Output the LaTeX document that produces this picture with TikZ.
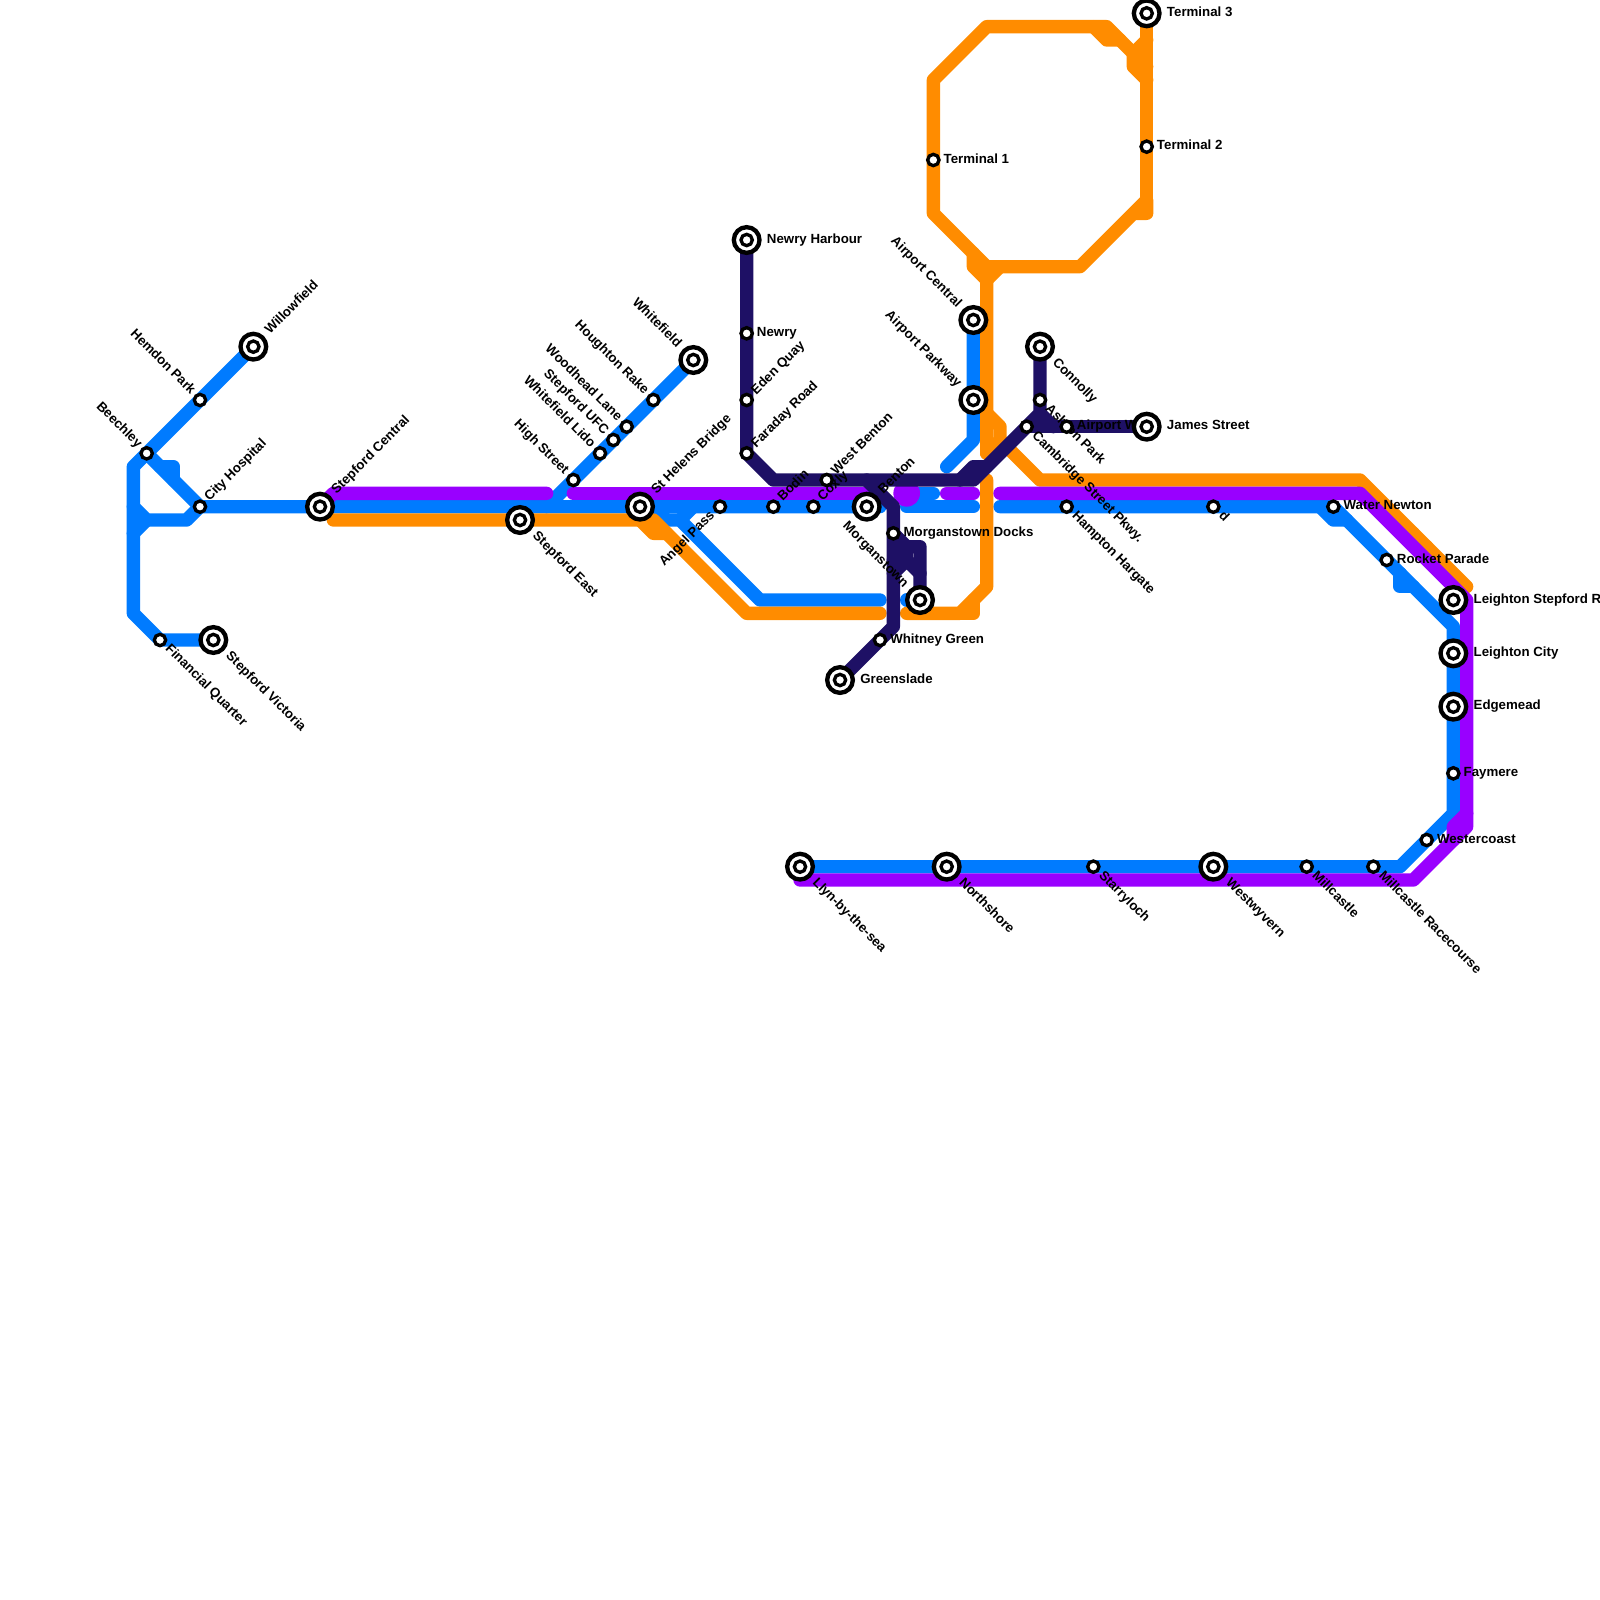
\documentclass[tikz,border=0pt]{standalone}
\usepackage{fontspec}
\setmainfont{Liberation Sans}
\usepackage{xcolor}
\definecolor{lineblue}{HTML}{007BFF}
\definecolor{linepurple}{HTML}{9900FF}
\definecolor{lineorange}{HTML}{FF8C00}
\definecolor{linenavy}{HTML}{1E1065}
\tikzset{
  route/.style={line width=0.3cm, line cap=round, line join=round},
  blueroute/.style={route, lineblue},
  purpleroute/.style={route, linepurple},
  orangeroute/.style={route, lineorange},
  navyroute/.style={route, linenavy},
  lbl/.style={font=\bfseries\fontsize{8.5}{10}\selectfont, inner xsep=0.225cm, inner ysep=0pt, text height=0.72em, text depth=0.3em},
  far/.style={inner xsep=0.45cm},
  lble/.style={lbl, anchor=west},
  lblne/.style={lbl, anchor=west, rotate=45},
  lblse/.style={lbl, anchor=west, rotate=-45},
  lblnw/.style={lbl, anchor=east, rotate=-45},
  lblsw/.style={lbl, anchor=east, rotate=45},
  halt/.style={circle, draw=black, fill=white, line width=0.075cm, minimum size=0.255cm, inner sep=0pt, outer sep=0pt},
  hub/.style={circle, draw=black, fill=white, line width=0.0975cm, minimum size=0.578cm, inner sep=0pt, outer sep=0pt,
    path picture={\draw[line width=0.075cm] (path picture bounding box.center) circle (0.1275cm);}},
}

\begin{document}
\begin{tikzpicture}[x=0.3cm, y=-0.3cm]
  \useasboundingbox (0,0) rectangle (120,120);
  % stations on the grid
  \coordinate (willowfield) at (19,26);
  \coordinate (hemdon) at (15,30);
  \coordinate (beechley) at (11,34);
  \coordinate (cityhospital) at (15,38);
  \coordinate (stepfordcentral) at (24,38);
  \coordinate (stepfordeast) at (39,39);
  \coordinate (financial) at (12,48);
  \coordinate (stepfordvictoria) at (16,48);
  \coordinate (highstreet) at (43,36);
  \coordinate (whitefieldlido) at (45,34);
  \coordinate (stepfordufc) at (46,33);
  \coordinate (woodhead) at (47,32);
  \coordinate (houghton) at (49,30);
  \coordinate (whitefield) at (52,27);
  \coordinate (sthelens) at (48,38);
  \coordinate (angelpass) at (54,38);
  \coordinate (bodin) at (58,38);
  \coordinate (coxly) at (61,38);
  \coordinate (westbenton) at (62,36);
  \coordinate (benton) at (65,38);
  \coordinate (newryharbour) at (56,18);
  \coordinate (newry) at (56,25);
  \coordinate (edenquay) at (56,30);
  \coordinate (faraday) at (56,34);
  \coordinate (docks) at (67,40);
  \coordinate (morganstown) at (69,45);
  \coordinate (whitney) at (66,48);
  \coordinate (greenslade) at (63,51);
  \coordinate (airportcentral) at (73,24);
  \coordinate (airportparkway) at (73,30);
  \coordinate (terminalone) at (70,12);
  \coordinate (terminaltwo) at (86,11);
  \coordinate (terminalthree) at (86,1);
  \coordinate (connolly) at (78,26);
  \coordinate (ashton) at (78,30);
  \coordinate (cambridge) at (77,32);
  \coordinate (airportwest) at (80,32);
  \coordinate (james) at (86,32);
  \coordinate (hampton) at (80,38);
  \coordinate (dee) at (91,38);
  \coordinate (waternewton) at (100,38);
  \coordinate (rocket) at (104,42);
  \coordinate (leightonstepford) at (109,45);
  \coordinate (leightoncity) at (109,49);
  \coordinate (edgemead) at (109,53);
  \coordinate (faymere) at (109,58);
  \coordinate (westercoast) at (107,63);
  \coordinate (llyn) at (60,65);
  \coordinate (northshore) at (71,65);
  \coordinate (starryloch) at (82,65);
  \coordinate (westwyvern) at (91,65);
  \coordinate (millcastle) at (98,65);
  \coordinate (racecourse) at (103,65);

  % blue
  \draw[blueroute] (willowfield) -- (hemdon) -- (beechley) -- (10,35) -- (10,46) -- (financial) -- (stepfordvictoria);
  \draw[blueroute] (beechley) -- (cityhospital) -- (stepfordcentral) -- (66,38);
  \draw[blueroute] (12,35) -- (13,35) -- (13,36);
  \draw[blueroute] (10,38) -- (11,39) -- (14,39) -- (cityhospital);
  \draw[blueroute] (10,40) -- (11,39);
  \draw[blueroute] (whitefield) -- (houghton) -- (woodhead) -- (stepfordufc) -- (whitefieldlido) -- (highstreet) -- (41,38);
  \draw[blueroute] (49,38) -- (50,39) -- (51,39) -- (57,45) -- (66,45);
  \draw[blueroute] (52,38) -- (51,39);
  \draw[blueroute] (68,45) -- (morganstown);
  \draw[blueroute] (68,38) -- (73,38);
  \draw[blueroute] (68,37) -- (70,37);
  \draw[blueroute] (airportcentral) -- (airportparkway) -- (73,33) -- (71,35);
  \draw[blueroute] (75,38) -- (hampton) -- (dee) -- (waternewton) -- (101,39) -- (rocket) -- (109,47) -- (leightoncity) -- (edgemead) -- (faymere) -- (109,61) -- (westercoast) -- (105,65) -- (racecourse) -- (millcastle) -- (westwyvern) -- (starryloch) -- (northshore) -- (llyn);
  \draw[blueroute] (99,38) -- (100,39) -- (101,39);
  \draw[blueroute] (105,43) -- (105,44) -- (106,44);

  % orange
  \draw[orangeroute] (25,39) -- (stepfordeast) -- (48,39) -- (49,39) -- (56,46) -- (66,46);
  \draw[orangeroute] (48,39) -- (49,40) -- (50,40);
  \draw[orangeroute] (74,21) -- (73,20) -- (73,19);
  \draw[orangeroute] (74,21) -- (75,20);
  \draw[orangeroute] (74,34) -- (74,21) -- (74,20) -- (70,16) -- (terminalone) -- (70,6) -- (74,2) -- (83,2) -- (86,5);
  \draw[orangeroute] (74,20) -- (81,20) -- (86,15) -- (86,16) -- (85,16);
  \draw[orangeroute] (86,15) -- (terminaltwo) -- (terminalthree);
  \draw[orangeroute] (82,2) -- (83,3) -- (84,3);
  \draw[orangeroute] (86,3) -- (85,4) -- (85,5) -- (86,6);
  \draw[orangeroute] (74,31) -- (75,32) -- (75,33) -- (74,34);
  \draw[orangeroute] (75,33) -- (78,36) -- (102,36) -- (110,44);
  \draw[orangeroute] (106,40) -- (106,41) -- (107,41);
  \draw[orangeroute] (74,36) -- (74,44) -- (72,46) -- (68,46);
  \draw[orangeroute] (73,45) -- (73,46) -- (72,46);

  % purple
  \draw[purpleroute] (stepfordcentral) -- (25,37) -- (41,37);
  \draw[purpleroute] (43,37) -- (65,37);
  \fill[linepurple] (68,37) circle (1);
  \draw[purpleroute] (71,37) -- (73,37);
  \draw[purpleroute] (75,37) -- (102,37) -- (110,45) -- (110,62) -- (106,66) -- (60,66);
  \draw[purpleroute] (110,61) -- (109,62) -- (109,63);

  % navy
  \draw[navyroute] (newryharbour) -- (newry) -- (edenquay) -- (faraday) -- (58,36) -- (westbenton) -- (73,36) -- (cambridge) -- (78,31) -- (ashton) -- (connolly);
  \draw[navyroute] (72,36) -- (73,35) -- (74,35);
  \draw[navyroute] (cambridge) -- (airportwest) -- (james);
  \draw[navyroute] (78,31) -- (79,32);
  \draw[navyroute] (65,36) -- (67,38) -- (docks) -- (67,47) -- (whitney) -- (greenslade);
  \draw[navyroute] (docks) -- (68,41) -- (69,41) -- (morganstown);
  \draw[navyroute] (67,43) -- (68,42) -- (69,43);
  \draw[navyroute] (68,41) -- (68,42);
  \draw[navyroute] (67,42) -- (68,41);

  % names
  \node[lblne, far] (l-willowfield) at (willowfield) {Willowfield};
  \node[lblnw] (l-hemdon) at (hemdon) {Hemdon Park};
  \node[lblnw] (l-beechley) at (beechley) {Beechley};
  \node[lblne] (l-cityhospital) at (cityhospital) {City Hospital};
  \node[lblne, far] (l-stepfordcentral) at (stepfordcentral) {Stepford Central};
  \node[lblse, far] (l-stepfordeast) at (stepfordeast) {Stepford East};
  \node[lblse] (l-financial) at (financial) {Financial Quarter};
  \node[lblse, far] (l-stepfordvictoria) at (stepfordvictoria) {Stepford Victoria};
  \node[lblnw] (l-highstreet) at (highstreet) {High Street};
  \node[lblnw] (l-whitefieldlido) at (whitefieldlido) {Whitefield Lido};
  \node[lblnw] (l-stepfordufc) at (stepfordufc) {Stepford UFC};
  \node[lblnw] (l-woodhead) at (woodhead) {Woodhead Lane};
  \node[lblnw] (l-houghton) at (houghton) {Houghton Rake};
  \node[lblnw, far] (l-whitefield) at (whitefield) {Whitefield};
  \node[lblne, far] (l-sthelens) at (sthelens) {St Helens Bridge};
  \node[lblsw] (l-angelpass) at (angelpass) {Angel Pass};
  \node[lblne] (l-bodin) at (bodin) {Bodin};
  \node[lblne] (l-coxly) at (coxly) {Coxly};
  \node[lblne] (l-westbenton) at (westbenton) {West Benton};
  \node[lblne, far] (l-benton) at (benton) {Benton};
  \node[lble, far] (l-newryharbour) at (newryharbour) {Newry Harbour};
  \node[lble] (l-newry) at (newry) {Newry};
  \node[lblne] (l-edenquay) at (edenquay) {Eden Quay};
  \node[lblne] (l-faraday) at (faraday) {Faraday Road};
  \node[lble] (l-docks) at (docks) {Morganstown Docks};
  \node[lblnw, far] (l-morganstown) at (morganstown) {Morganstown};
  \node[lble] (l-whitney) at (whitney) {Whitney Green};
  \node[lble, far] (l-greenslade) at (greenslade) {Greenslade};
  \node[lblnw, far] (l-airportcentral) at (airportcentral) {Airport Central};
  \node[lblnw, far] (l-airportparkway) at (airportparkway) {Airport Parkway};
  \node[lble] (l-terminalone) at (terminalone) {Terminal 1};
  \node[lble] (l-terminaltwo) at (terminaltwo) {Terminal 2};
  \node[lble, far] (l-terminalthree) at (terminalthree) {Terminal 3};
  \node[lblse, far] (l-connolly) at (connolly) {Connolly};
  \node[lblse] (l-ashton) at (ashton) {Ashton Park};
  \node[lblse] (l-cambridge) at (cambridge) {Cambridge Street Pkwy.};
  \node[lble] (l-airportwest) at (airportwest) {Airport West};
  \node[lble, far] (l-james) at (james) {James Street};
  \node[lblse] (l-hampton) at (hampton) {Hampton Hargate};
  \node[lblse] (l-dee) at (dee) {d};
  \node[lble] (l-waternewton) at (waternewton) {Water Newton};
  \node[lble] (l-rocket) at (rocket) {Rocket Parade};
  \node[lble, far] (l-leightonstepford) at (leightonstepford) {Leighton Stepford R};
  \node[lble, far] (l-leightoncity) at (leightoncity) {Leighton City};
  \node[lble, far] (l-edgemead) at (edgemead) {Edgemead};
  \node[lble] (l-faymere) at (faymere) {Faymere};
  \node[lble] (l-westercoast) at (westercoast) {Westercoast};
  \node[lblse, far] (l-llyn) at (llyn) {Llyn-by-the-sea};
  \node[lblse, far] (l-northshore) at (northshore) {Northshore};
  \node[lblse] (l-starryloch) at (starryloch) {Starryloch};
  \node[lblse, far] (l-westwyvern) at (westwyvern) {Westwyvern};
  \node[lblse] (l-millcastle) at (millcastle) {Millcastle};
  \node[lblse] (l-racecourse) at (racecourse) {Millcastle Racecourse};

  % markers
  \node[hub] (m-willowfield) at (willowfield) {};
  \node[halt] (m-hemdon) at (hemdon) {};
  \node[halt] (m-beechley) at (beechley) {};
  \node[halt] (m-cityhospital) at (cityhospital) {};
  \node[hub] (m-stepfordcentral) at (stepfordcentral) {};
  \node[hub] (m-stepfordeast) at (stepfordeast) {};
  \node[halt] (m-financial) at (financial) {};
  \node[hub] (m-stepfordvictoria) at (stepfordvictoria) {};
  \node[halt] (m-highstreet) at (highstreet) {};
  \node[halt] (m-whitefieldlido) at (whitefieldlido) {};
  \node[halt] (m-stepfordufc) at (stepfordufc) {};
  \node[halt] (m-woodhead) at (woodhead) {};
  \node[halt] (m-houghton) at (houghton) {};
  \node[hub] (m-whitefield) at (whitefield) {};
  \node[hub] (m-sthelens) at (sthelens) {};
  \node[halt] (m-angelpass) at (angelpass) {};
  \node[halt] (m-bodin) at (bodin) {};
  \node[halt] (m-coxly) at (coxly) {};
  \node[halt] (m-westbenton) at (westbenton) {};
  \node[hub] (m-benton) at (benton) {};
  \node[hub] (m-newryharbour) at (newryharbour) {};
  \node[halt] (m-newry) at (newry) {};
  \node[halt] (m-edenquay) at (edenquay) {};
  \node[halt] (m-faraday) at (faraday) {};
  \node[halt] (m-docks) at (docks) {};
  \node[hub] (m-morganstown) at (morganstown) {};
  \node[halt] (m-whitney) at (whitney) {};
  \node[hub] (m-greenslade) at (greenslade) {};
  \node[hub] (m-airportcentral) at (airportcentral) {};
  \node[hub] (m-airportparkway) at (airportparkway) {};
  \node[halt] (m-terminalone) at (terminalone) {};
  \node[halt] (m-terminaltwo) at (terminaltwo) {};
  \node[hub] (m-terminalthree) at (terminalthree) {};
  \node[hub] (m-connolly) at (connolly) {};
  \node[halt] (m-ashton) at (ashton) {};
  \node[halt] (m-cambridge) at (cambridge) {};
  \node[halt] (m-airportwest) at (airportwest) {};
  \node[hub] (m-james) at (james) {};
  \node[halt] (m-hampton) at (hampton) {};
  \node[halt] (m-dee) at (dee) {};
  \node[halt] (m-waternewton) at (waternewton) {};
  \node[halt] (m-rocket) at (rocket) {};
  \node[hub] (m-leightonstepford) at (leightonstepford) {};
  \node[hub] (m-leightoncity) at (leightoncity) {};
  \node[hub] (m-edgemead) at (edgemead) {};
  \node[halt] (m-faymere) at (faymere) {};
  \node[halt] (m-westercoast) at (westercoast) {};
  \node[hub] (m-llyn) at (llyn) {};
  \node[hub] (m-northshore) at (northshore) {};
  \node[halt] (m-starryloch) at (starryloch) {};
  \node[hub] (m-westwyvern) at (westwyvern) {};
  \node[halt] (m-millcastle) at (millcastle) {};
  \node[halt] (m-racecourse) at (racecourse) {};
\end{tikzpicture}
\end{document}
